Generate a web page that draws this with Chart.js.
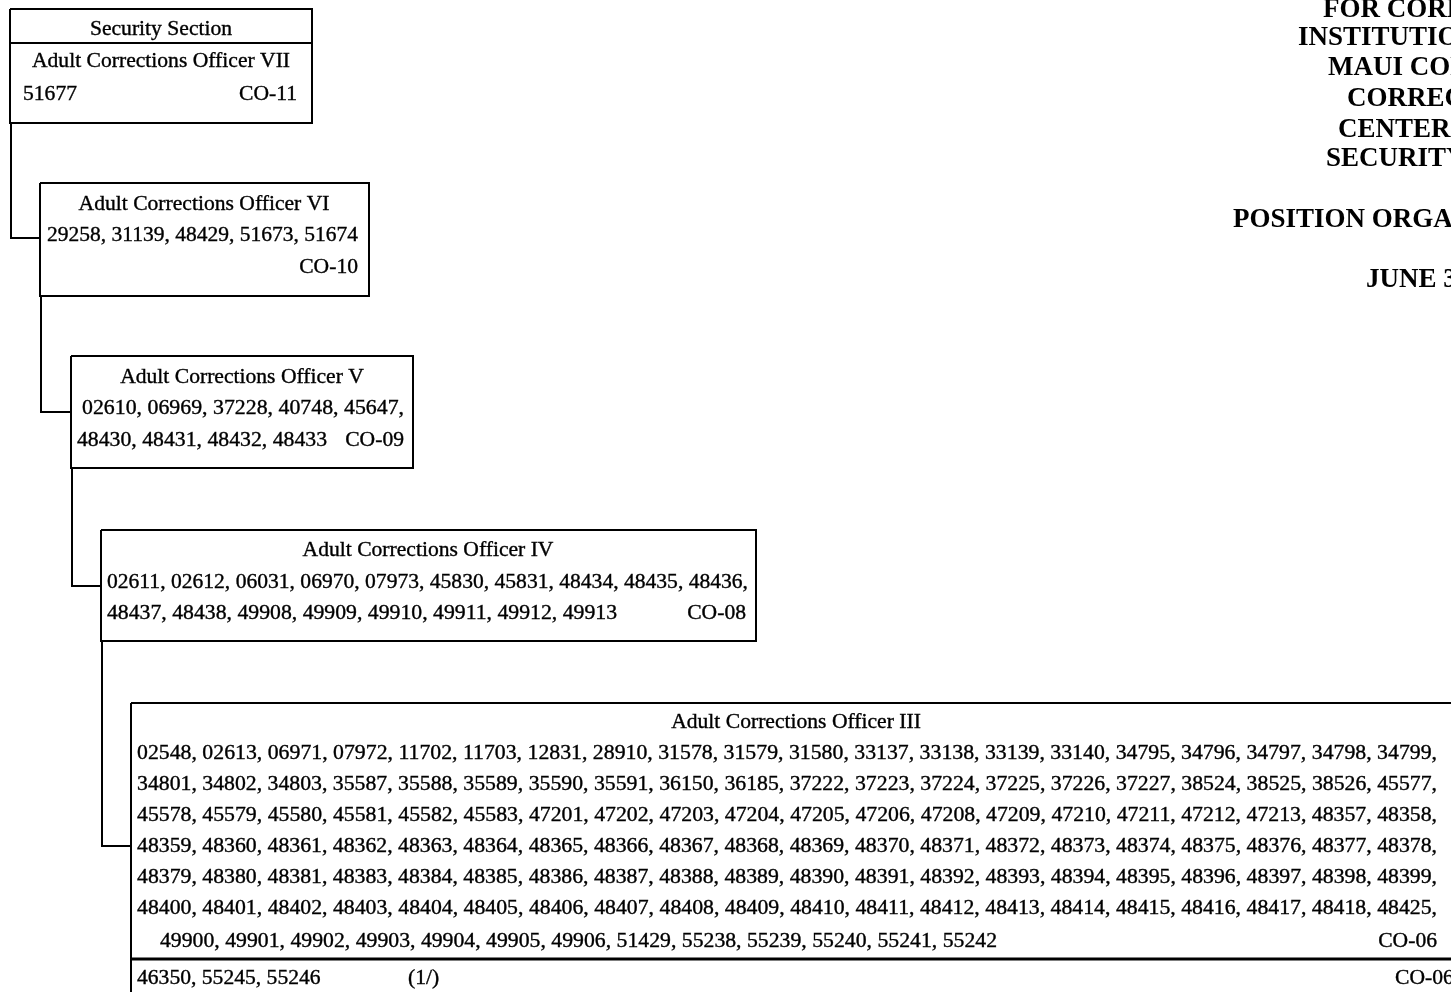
<!DOCTYPE html>
<html>
<head>
<meta charset="utf-8">
<title>Security Section - Position Organization Chart</title>
<script src="https://cdn.jsdelivr.net/npm/chart.js@4.4.0/dist/chart.umd.min.js"></script>
<style>
  html, body { margin: 0; padding: 0; background: #fff; overflow: hidden; }
  canvas { display: block; }
</style>
</head>
<body>
<canvas id="org_chart" width="1451" height="992"></canvas>
<script>
// ---- chart text / data ----
var headingLines = ['FOR CORRECTIONS', 'INSTITUTIONS', 'MAUI COMMUNITY', 'CORRECTIONAL', 'CENTER', 'SECURITY SECTION', 'POSITION ORGANIZATION CHART', 'JUNE 30'];
var sectionName = 'Security Section';
var classTitles = ['Adult Corrections Officer VII', 'Adult Corrections Officer VI', 'Adult Corrections Officer V', 'Adult Corrections Officer IV', 'Adult Corrections Officer III'];
var classCodes = ['CO-11', 'CO-10', 'CO-09', 'CO-08', 'CO-06'];

var aco7Positions = ['51677'];
var aco6Positions = ['29258', '31139', '48429', '51673', '51674'];
var aco5Positions = ['02610', '06969', '37228', '40748', '45647', '48430', '48431', '48432', '48433'];
var aco4Positions = ['02611', '02612', '06031', '06970', '07973', '45830', '45831', '48434', '48435', '48436',
  '48437', '48438', '49908', '49909', '49910', '49911', '49912', '49913'];
var aco3Positions = [
  '02548', '02613', '06971', '07972', '11702', '11703', '12831', '28910', '31578', '31579', '31580', '33137', '33138', '33139', '33140', '34795', '34796', '34797', '34798', '34799',
  '34801', '34802', '34803', '35587', '35588', '35589', '35590', '35591', '36150', '36185', '37222', '37223', '37224', '37225', '37226', '37227', '38524', '38525', '38526', '45577',
  '45578', '45579', '45580', '45581', '45582', '45583', '47201', '47202', '47203', '47204', '47205', '47206', '47208', '47209', '47210', '47211', '47212', '47213', '48357', '48358',
  '48359', '48360', '48361', '48362', '48363', '48364', '48365', '48366', '48367', '48368', '48369', '48370', '48371', '48372', '48373', '48374', '48375', '48376', '48377', '48378',
  '48379', '48380', '48381', '48383', '48384', '48385', '48386', '48387', '48388', '48389', '48390', '48391', '48392', '48393', '48394', '48395', '48396', '48397', '48398', '48399',
  '48400', '48401', '48402', '48403', '48404', '48405', '48406', '48407', '48408', '48409', '48410', '48411', '48412', '48413', '48414', '48415', '48416', '48417', '48418', '48425',
  '49900', '49901', '49902', '49903', '49904', '49905', '49906', '51429', '55238', '55239', '55240', '55241', '55242'];
var aco3ExtraPositions = ['46350', '55245', '55246'];
var aco3ExtraNote = '(1/)';
var aco3ExtraCode = 'CO-06';

// ---- layout (page pixels) ----
var boxes = [
  { x0: 10, y0: 9, x1: 312, y1: 123, divider: 43 },
  { x0: 40, y0: 183, x1: 369, y1: 296 },
  { x0: 71, y0: 356, x1: 413, y1: 468 },
  { x0: 101, y0: 530, x1: 756, y1: 641 },
  { x0: 131, y0: 703, x1: 1480, y1: 1020, divider: 959 }
];
var elbowY = [null, 238, 412, 586, 846];
var headingX = [1323, 1298, 1328, 1347, 1338, 1326, 1233, 1366];
var headingY = [17, 45, 75, 106, 137, 166, 227, 287];

function rows(list, size) {
  var out = [];
  for (var i = 0; i < list.length; i += size) out.push(list.slice(i, i + size));
  return out;
}
function joined(list, more) { return list.join(', ') + (more ? ',' : ''); }

// text items: [text, x, baseline y, align, fitRight]
var texts = [];
texts.push([sectionName, 161, 35, 'center']);
texts.push([classTitles[0], 161, 67, 'center']);
texts.push([joined(aco7Positions), 23, 100, 'left']);
texts.push([classCodes[0], 297, 100, 'right']);

texts.push([classTitles[1], 204, 210, 'center']);
texts.push([joined(aco6Positions), 47, 241, 'left', 358]);
texts.push([classCodes[1], 358, 273, 'right']);

var r5 = rows(aco5Positions, 5);
texts.push([classTitles[2], 242, 383, 'center']);
texts.push([joined(r5[0], true), 82, 414, 'left', 404]);
texts.push([joined(r5[1]), 77, 446, 'left', 327]);
texts.push([classCodes[2], 404, 446, 'right']);

var r4 = rows(aco4Positions, 10);
texts.push([classTitles[3], 428, 556, 'center']);
texts.push([joined(r4[0], true), 107, 588, 'left', 748]);
texts.push([joined(r4[1]), 107, 619, 'left', 617]);
texts.push([classCodes[3], 746, 619, 'right']);

var r3 = rows(aco3Positions, 20);
var r3y = [759, 790, 821, 852, 883, 914, 947];
texts.push([classTitles[4], 796, 728, 'center']);
r3.forEach(function (r, i) {
  var last = i === r3.length - 1;
  texts.push([joined(r, !last), last ? 160 : 137, r3y[i], 'left', last ? 997 : 1437]);
});
texts.push([classCodes[4], 1437, 947, 'right']);
texts.push([joined(aco3ExtraPositions), 137, 984, 'left']);
texts.push([aco3ExtraNote, 408, 984, 'left']);
texts.push([aco3ExtraCode, 1395, 984, 'left']);

// ---- datasets: boxes, dividers and elbow connectors ----
function lineSet(points, width) {
  return {
    data: points, showLine: true, borderColor: '#000', borderWidth: width || 2,
    pointRadius: 0, pointHoverRadius: 0, tension: 0, fill: false, borderJoinStyle: 'miter'
  };
}
var datasets = [];
boxes.forEach(function (b, i) {
  datasets.push(lineSet([{ x: b.x0, y: b.y0 }, { x: b.x1, y: b.y0 }, { x: b.x1, y: b.y1 }, { x: b.x0, y: b.y1 }, { x: b.x0, y: b.y0 }]));
  if (b.divider) datasets.push(lineSet([{ x: b.x0, y: b.divider }, { x: b.x1, y: b.divider }], i === 4 ? 3 : 2));
  if (i > 0) {
    var p = boxes[i - 1];
    datasets.push(lineSet([{ x: p.x0 + 1, y: p.y1 }, { x: p.x0 + 1, y: elbowY[i] }, { x: b.x0, y: elbowY[i] }]));
  }
});

var textPlugin = {
  id: 'orgText',
  afterDatasetsDraw: function (chart) {
    var ctx = chart.ctx, sx = chart.scales.x, sy = chart.scales.y;
    ctx.save();
    ctx.fillStyle = '#000';
    ctx.strokeStyle = '#000';
    ctx.lineWidth = 0.35;
    ctx.textBaseline = 'alphabetic';
    ctx.font = '20px "Liberation Serif", "Times New Roman", serif';
    texts.forEach(function (t) {
      var x = sx.getPixelForValue(t[1]), y = sy.getPixelForValue(t[2]);
      var w = ctx.measureText(t[0]).width;
      var k = 1.08;
      if (t[4]) k = (sx.getPixelForValue(t[4]) - x) / w;
      var left = x;
      if (t[3] === 'center') left = x - w * k / 2;
      if (t[3] === 'right') left = x - w * k;
      ctx.save();
      ctx.translate(left, y);
      ctx.scale(k, 1);
      ctx.textAlign = 'left';
      ctx.fillText(t[0], 0, 0);
      ctx.strokeText(t[0], 0, 0);
      ctx.restore();
    });
    ctx.font = 'bold 27px "Liberation Serif", "Times New Roman", serif';
    ctx.textAlign = 'left';
    headingLines.forEach(function (s, i) {
      ctx.fillText(s, sx.getPixelForValue(headingX[i]), sy.getPixelForValue(headingY[i]));
    });
    ctx.restore();
  }
};

new Chart(document.getElementById('org_chart').getContext('2d'), {
  type: 'scatter',
  data: { datasets: datasets },
  options: {
    responsive: false,
    animation: false,
    devicePixelRatio: 1,
    layout: { padding: 0 },
    scales: {
      x: { type: 'linear', min: 0, max: 1451, display: false },
      y: { type: 'linear', min: 0, max: 992, reverse: true, display: false }
    },
    plugins: { legend: { display: false }, tooltip: { enabled: false } },
    events: []
  },
  plugins: [textPlugin]
});
</script>
</body>
</html>
